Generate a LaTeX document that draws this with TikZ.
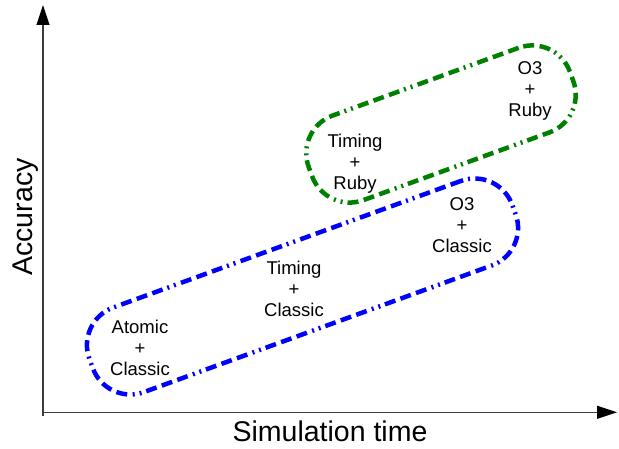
\documentclass[tikz,border=0pt]{standalone}
\usepackage{fontspec}
\setmainfont{Liberation Sans}
\usepackage{tikz}
\usetikzlibrary{arrows.meta, positioning, calc}
\definecolor{grpblue}{RGB}{0,0,255}
\definecolor{grpgreen}{RGB}{0,128,0}
\definecolor{axisgray}{RGB}{60,60,60}

\begin{document}
\begin{tikzpicture}[x=1pt, y=1pt, >=Stealth,
      axis/.style={draw=axisgray, line width=1.2pt,
                   -{Triangle[length=20pt, width=13pt, color=black]}},
      cluster/.style={rectangle, rounded corners=40pt, line width=4.5pt, rotate=20,
                      inner sep=0pt, minimum height=90pt,
                      dash pattern=on 11pt off 5.5pt on 11pt off 5.5pt on 11pt off 5.5pt
                                   on 2pt off 5pt on 2pt off 5pt},
      config/.style={align=center, font=\fontsize{18.5}{21}\selectfont, inner sep=0pt},
      axislabel/.style={font=\fontsize{28.5}{32}\selectfont, inner sep=0pt}]

    \useasboundingbox (0,0) rectangle (619,449);

    % axes
    \coordinate (O) at (43,36.7);
    \coordinate (Ybot) at (43,32.5);
    \coordinate (Ytop) at (43,444);
    \coordinate (Xend) at (617,36.7);
    \draw[axis] (Ybot) -- (Ytop);
    \draw[axis] (O) -- (Xend);
    \node[axislabel] (xlab) at (330,17.3) {Simulation time};
    \node[axislabel, rotate=90] (ylab) at (26,232) {Accuracy};

    % groups
    \node[cluster, draw=grpblue, minimum width=450pt] (classic) at (302.5,162.5) {};
    \node[cluster, draw=grpgreen, minimum width=278pt] (ruby) at (441,325) {};

    % configurations
    \node[config] (atomic)     at (140,101)   {Atomic\\+\\Classic};
    \node[config] (timingcl)   at (294,160)   {Timing\\+\\Classic};
    \node[config] (othreecl)   at (462,224)   {O3\\+\\Classic};
    \node[config] (timingruby) at (355,285.5) {Timing\\+\\Ruby};
    \node[config] (othreeruby) at (530,358.5) {O3\\+\\Ruby};
\end{tikzpicture}
\end{document}
